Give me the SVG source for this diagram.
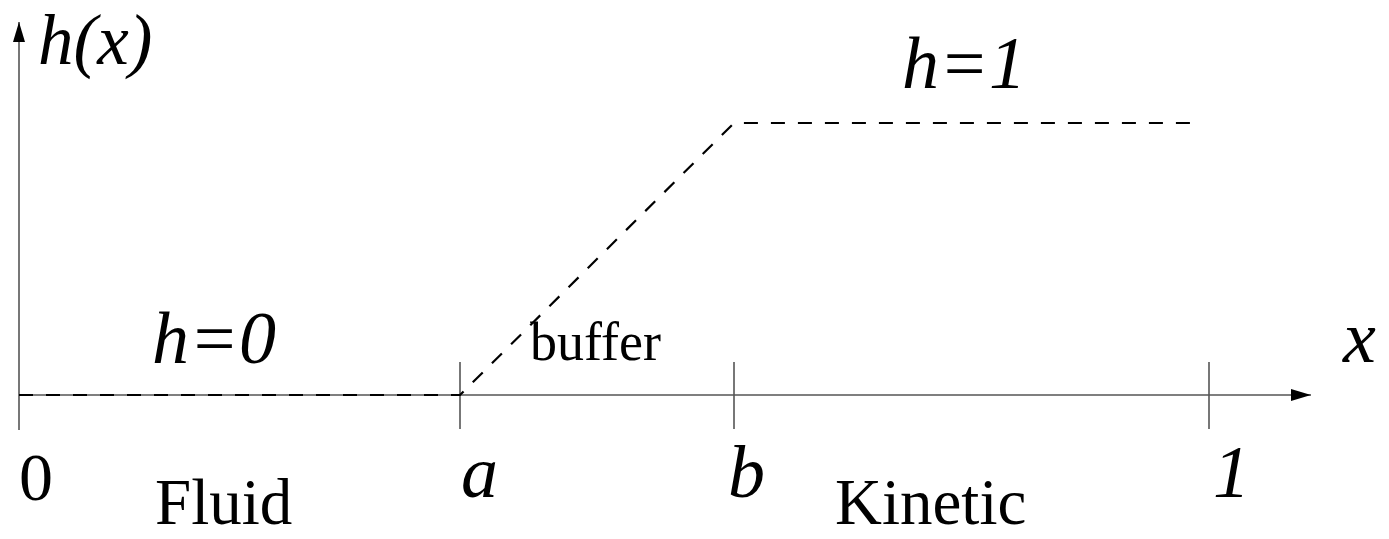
<svg xmlns="http://www.w3.org/2000/svg" width="1389" height="539" viewBox="0 0 1389 539">
<style>
.ax{stroke:#555;stroke-width:1.6;fill:none}
.dash{stroke:#000;stroke-width:2.2;fill:none;stroke-dasharray:14 13}
.m{font-family:"Liberation Serif",serif;font-style:italic;font-size:74px;fill:#000}
.t{font-family:"Liberation Serif",serif;font-size:68px;fill:#000}
.big{font-size:65px}
</style>
<defs>
<marker id="ah" markerWidth="20" markerHeight="12" refX="20" refY="6" orient="auto" markerUnits="userSpaceOnUse"><path d="M0,0 L20,6 L0,12 Z" fill="#000"/></marker>
</defs>
<g id="connectors">
<line class="ax" x1="19" y1="430" x2="19" y2="22" marker-end="url(#ah)"/>
<line class="ax" x1="19" y1="395" x2="1311" y2="395" marker-end="url(#ah)"/>
<line class="ax" x1="460" y1="362" x2="460" y2="429"/>
<line class="ax" x1="734" y1="362" x2="734" y2="429"/>
<line class="ax" x1="1209" y1="362" x2="1209" y2="429"/>
<polyline class="dash" points="19,395 460,395 734,123 1200,123"/>
</g>
<g id="labels">
<text class="m" x="38" y="64" style="font-size:71px">h(x)</text>
<text class="m" x="902" y="88">h=1</text>
<text class="m" x="152" y="363">h=0</text>
<text class="t" x="530" y="360" style="font-size:54px">buffer</text>
<text class="m" x="1343" y="362">x</text>
<text class="t" x="19" y="500">0</text>
<text class="t big" x="155" y="524">Fluid</text>
<text class="m" x="461" y="497">a</text>
<text class="m" x="728" y="497">b</text>
<text class="t big" x="835" y="524">Kinetic</text>
<text class="m" x="1213" y="497">1</text>
</g>
</svg>
